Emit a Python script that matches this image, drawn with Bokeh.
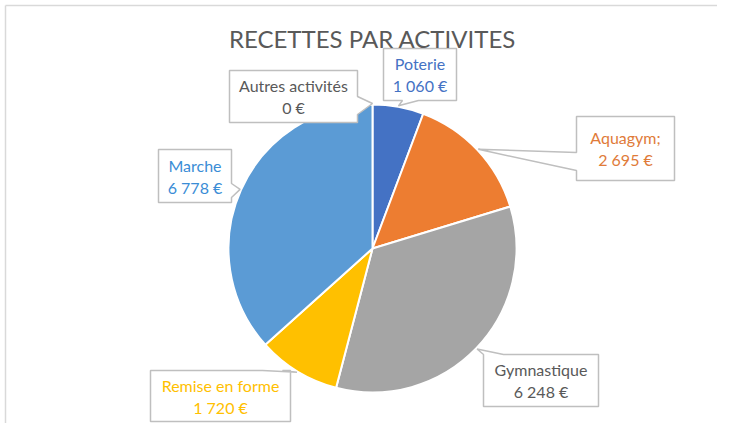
import math
from bokeh.plotting import figure
from bokeh.models import Range1d, ColumnDataSource
from bokeh.core.properties import value
from bokeh.embed import file_html
from bokeh.resources import INLINE

# ---- data ----
categories = ["Poterie", "Aquagym;", "Gymnastique", "Remise en forme", "Marche", "Autres activités"]
amounts = [1060, 2695, 6248, 1720, 6778, 0]
amount_labels = ["1 060 €", "2 695 €", "6 248 €", "1 720 €", "6 778 €", "0 €"]
slice_colors = ["#4472C4", "#ED7D31", "#A5A5A5", "#FFC000", "#5B9BD5", "#70AD47"]
label_colors = ["#4472C4", "#E07B39", "#595959", "#FFC000", "#3A8DD6", "#595959"]
title_text = "RECETTES PAR ACTIVITES"

# ---- layout (picture pixel coordinates) ----
W, H = 717, 423
CX, CY, R = 372, 248, 144
FONT = "Lato"
# callout boxes: x0, y0, x1, y1, pointer side, base a, base b
boxes = [
    (383, 48, 456, 100, "bottom", 402, 418),
    (576, 116, 674, 180, "left", 152, 170),
    (483, 354, 598, 406, "top", 483, 503),
    (150, 370, 290, 421, "top", 262, 282),
    (158, 149, 231, 202, "right", 183, 197),
    (229, 70, 357, 122, "right", 96, 114),
]

p = figure(width=W, height=H, output_backend="svg", toolbar_location=None,
           x_range=Range1d(0, W), y_range=Range1d(-H, 0),
           min_border=0, outline_line_color=None)
p.axis.visible = False
p.grid.visible = False
p.background_fill_color = "white"
p.border_fill_color = "white"

# chart area border (left and top)
p.line([5, 5], [-H, -5], line_color="#D9D9D9", line_width=1.5)
p.line([5, W], [-5, -5], line_color="#D9D9D9", line_width=1.5)

total = float(sum(amounts))
cum = 0.0
starts, ends, mids = [], [], []
for a in amounts:
    s = math.pi / 2 - 2 * math.pi * cum / total
    cum += a
    e = math.pi / 2 - 2 * math.pi * cum / total
    starts.append(s); ends.append(e); mids.append((s + e) / 2)

idx = [i for i, a in enumerate(amounts) if a > 0]
src = ColumnDataSource(dict(
    start=[starts[i] for i in idx], end=[ends[i] for i in idx],
    color=[slice_colors[i] for i in idx]))
p.wedge(x=CX, y=-CY, radius=R, start_angle="start", end_angle="end",
        direction="clock", fill_color="color", line_color="white",
        line_width=2, source=src)

# callouts
for i, (x0, y0, x1, y1, side, a, b) in enumerate(boxes):
    tx = CX + (R + 1) * math.cos(mids[i])
    ty = CY - (R + 1) * math.sin(mids[i])
    pts = [(x0, y0)]
    if side == "top":
        pts += [(a, y0), (tx, ty), (b, y0)]
    pts += [(x1, y0)]
    if side == "right":
        pts += [(x1, a), (tx, ty), (x1, b)]
    pts += [(x1, y1)]
    if side == "bottom":
        pts += [(b, y1), (tx, ty), (a, y1)]
    pts += [(x0, y1)]
    if side == "left":
        pts += [(x0, b), (tx, ty), (x0, a)]
    xs = [q[0] for q in pts]
    ys = [-q[1] for q in pts]
    p.patch(xs, ys, fill_color="white", line_color="#BFBFBF", line_width=1.5)
    mx = (x0 + x1) / 2
    my = (y0 + y1) / 2
    p.text(x=[mx, mx], y=[-(my - 11), -(my + 11)],
           text=[categories[i], amount_labels[i]],
           text_align="center", text_baseline="middle",
           text_font=value(FONT), text_font_size="16px",
           text_color=label_colors[i])

p.text(x=[372], y=[-38], text=[title_text], text_align="center",
       text_baseline="middle", text_font=value(FONT), text_font_size="24px",
       text_color="#595959")

open("out.html", "w").write(file_html(p, INLINE))
